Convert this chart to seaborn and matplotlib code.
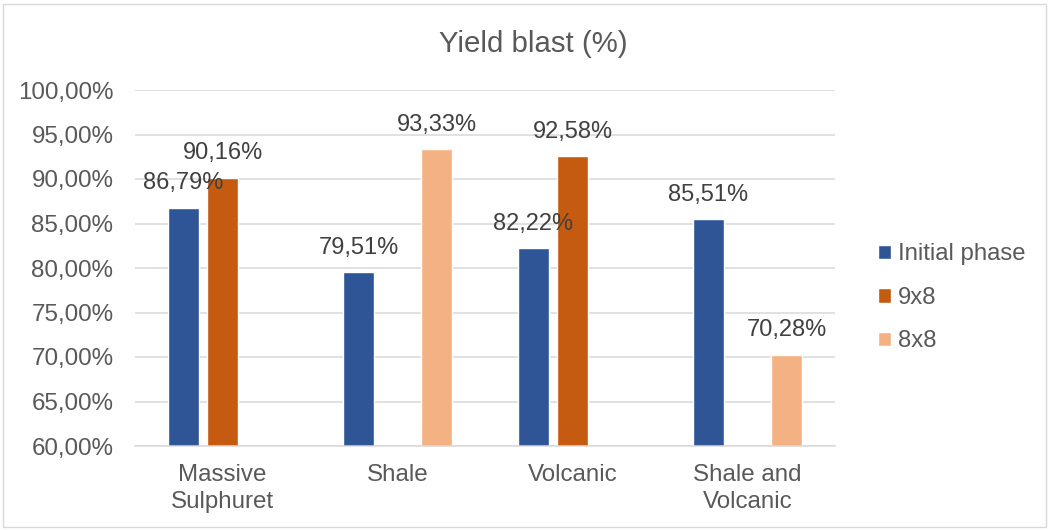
import numpy as np
import pandas as pd
import matplotlib
matplotlib.use("Agg")
import matplotlib.pyplot as plt
from matplotlib.patches import Rectangle
from matplotlib.ticker import FuncFormatter, MultipleLocator
import seaborn as sns

# Blast yield per rock type and drilling pattern (%)
categories = ["Massive\nSulphuret", "Shale", "Volcanic", "Shale and\nVolcanic"]
series = ["Initial phase", "9x8", "8x8"]
initial_phase = [86.79, 79.51, 82.22, 85.51]
pattern_9x8 = [90.16, np.nan, 92.58, np.nan]
pattern_8x8 = [np.nan, 93.33, np.nan, 70.28]
colors = ["#2F5597", "#C55A11", "#F4B183"]

rows = []
for name, vals in zip(series, [initial_phase, pattern_9x8, pattern_8x8]):
    for cat, v in zip(categories, vals):
        rows.append({"Rock": cat, "Series": name, "Yield": v})
df = pd.DataFrame(rows)

sns.set_theme(style="white")
plt.rcParams["font.family"] = ["Liberation Sans", "DejaVu Sans"]

fig = plt.figure(figsize=(10.49, 5.30), dpi=100)
ax = fig.add_axes([135 / 1049, 84 / 530, 700 / 1049, 356 / 530])

sns.barplot(data=df, x="Rock", y="Yield", hue="Series", order=categories,
            hue_order=series, palette=colors, width=0.669, gap=0.205,
            errorbar=None, saturation=1, ax=ax, legend=True, zorder=2)

ax.set_ylim(60, 100)
ax.yaxis.set_major_locator(MultipleLocator(5))
ax.yaxis.set_major_formatter(FuncFormatter(lambda y, _: f"{y:.2f}%".replace(".", ",")))
ax.grid(axis="y", color="#D9D9D9", linewidth=1.1, zorder=0)
ax.set_axisbelow(True)
for s in ["top", "right", "left"]:
    ax.spines[s].set_visible(False)
ax.spines["bottom"].set_color("#D9D9D9")
ax.spines["bottom"].set_linewidth(1.1)
ax.set_xlabel("")
ax.set_ylabel("")
ax.tick_params(axis="both", length=0, labelsize=17.4, labelcolor="#595959")
ax.tick_params(axis="x", pad=13)
ax.tick_params(axis="y", pad=15.5)
for t in ax.get_xticklabels():
    t.set_linespacing(1.3)

# Value labels above each bar
for cont in ax.containers:
    for bar in cont:
        h = bar.get_height()
        if np.isnan(h) or h <= 0:
            continue
        ax.annotate(f"{h:.2f}%".replace(".", ","),
                    (bar.get_x() + bar.get_width() / 2, h),
                    xytext=(0, 17.5), textcoords="offset points",
                    ha="center", va="center", fontsize=17.0,
                    color="#404040", zorder=5)

leg = ax.legend(loc="upper left", bbox_to_anchor=(878 / 1049, 0.541),
                bbox_transform=fig.transFigure, frameon=False,
                fontsize=17.2, labelcolor="#595959", handlelength=0.55,
                handleheight=0.55, handletextpad=0.3, labelspacing=0.9,
                borderpad=0, borderaxespad=0)

fig.text(533 / 1049, 1 - 44 / 530, "Yield blast (%)", ha="center", va="center",
         fontsize=21.2, color="#595959")

fig.add_artist(Rectangle((2.5 / 1049, 3.5 / 530), 1043 / 1049, 523 / 530,
                         transform=fig.transFigure, fill=False,
                         edgecolor="#D9D9D9", linewidth=1))

fig.savefig("out.png", dpi=100, facecolor="white")
